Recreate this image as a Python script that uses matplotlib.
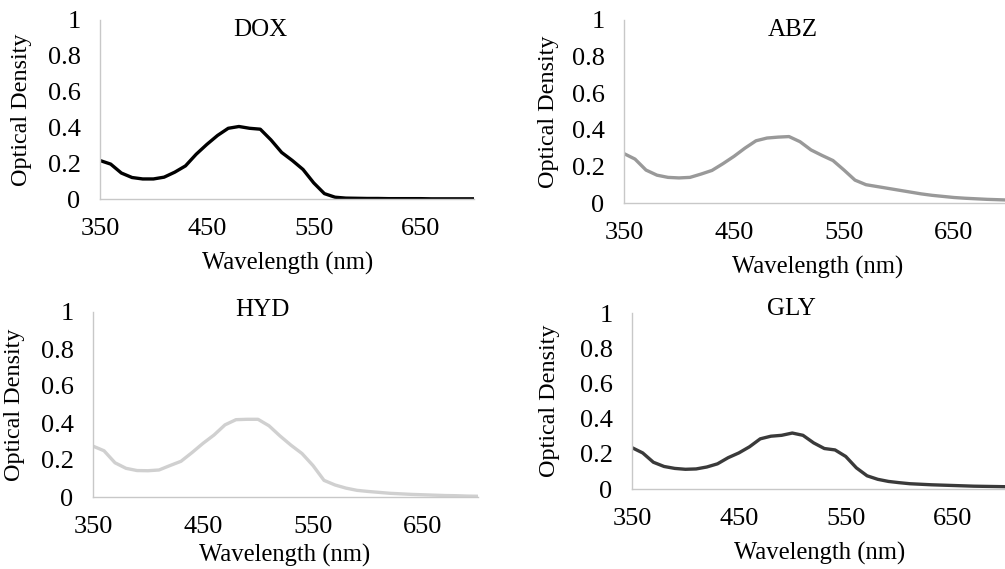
import matplotlib
matplotlib.use("Agg")
import matplotlib.pyplot as plt

plt.rcParams['font.family'] = ['Liberation Serif', 'DejaVu Serif']

wavelength = list(range(350, 701, 10))

dox = [0.215, 0.195, 0.145, 0.12, 0.112, 0.112, 0.122, 0.15, 0.185, 0.25,
       0.305, 0.355, 0.395, 0.405, 0.395, 0.39, 0.33, 0.26, 0.215, 0.165,
       0.09, 0.03, 0.01, 0.005, 0.004, 0.003, 0.003, 0.002, 0.002, 0.002,
       0.002, 0.001, 0.001, 0.001, 0.001, 0.001]
abz = [0.27, 0.24, 0.18, 0.152, 0.14, 0.137, 0.14, 0.158, 0.178, 0.215,
       0.255, 0.3, 0.34, 0.355, 0.36, 0.363, 0.335, 0.29, 0.26, 0.232,
       0.18, 0.125, 0.1, 0.09, 0.08, 0.07, 0.06, 0.05, 0.042, 0.036,
       0.03, 0.026, 0.023, 0.02, 0.018, 0.016]
hyd = [0.275, 0.25, 0.185, 0.155, 0.143, 0.142, 0.146, 0.17, 0.193, 0.24,
       0.29, 0.335, 0.39, 0.418, 0.42, 0.42, 0.385, 0.33, 0.28, 0.235,
       0.17, 0.09, 0.065, 0.048, 0.036, 0.03, 0.025, 0.02, 0.017, 0.014,
       0.012, 0.01, 0.008, 0.007, 0.005, 0.004]
gly = [0.235, 0.205, 0.152, 0.128, 0.117, 0.112, 0.114, 0.125, 0.143, 0.178,
       0.205, 0.24, 0.285, 0.3, 0.305, 0.318, 0.305, 0.262, 0.23, 0.222,
       0.185, 0.12, 0.075, 0.055, 0.043, 0.036, 0.03, 0.027, 0.024, 0.022,
       0.02, 0.018, 0.016, 0.015, 0.014, 0.013]

titles = ["DOX", "ABZ", "HYD", "GLY"]
series = [dox, abz, hyd, gly]
colors = ["#000000", "#999999", "#d0d0d0", "#3a3a3a"]
x_ticks = [350, 450, 550, 650]
y_ticks = [0, 0.2, 0.4, 0.6, 0.8, 1]
y_ticklabels = ["0", "0.2", "0.4", "0.6", "0.8", "1"]

W, H = 1005, 569
fig = plt.figure(figsize=(W / 100, H / 100), dpi=100)

# pixel layouts: left, right, top, bottom
boxes = [(100, 474, 20, 199), (624, 1009, 20, 203),
         (93, 478, 312, 497), (632, 1006, 313, 489)]
title_pos = [(260, 30), (793, 30), (262, 310), (791, 309)]
xlabel_pos = [(288, 263), (818, 267), (285, 555), (820, 553)]
ylabel_x = [22, 548, 15, 550]

for i in range(4):
    l, r, t, b = boxes[i]
    ax = fig.add_axes([l / W, 1 - b / H, (r - l) / W, (b - t) / H])
    ax.plot(wavelength, series[i], color=colors[i], lw=2.4,
            solid_joinstyle='round', solid_capstyle='round')
    ax.set_xlim(350, 700)
    ax.set_ylim(0, 1)
    ax.set_xticks(x_ticks)
    ax.set_yticks(y_ticks)
    ax.set_yticklabels(y_ticklabels)
    for s in ["top", "right"]:
        ax.spines[s].set_visible(False)
    for s in ["left", "bottom"]:
        ax.spines[s].set_color("#c8c8c8")
        ax.spines[s].set_linewidth(1.0)
    ax.tick_params(length=0, labelsize=19, colors="#000000")
    ax.tick_params(axis='x', pad=14)
    ax.tick_params(axis='y', pad=14)
    ax.patch.set_alpha(0)
    fig.text(title_pos[i][0] / W, 1 - title_pos[i][1] / H, titles[i],
             ha='center', va='center', fontsize=18)
    fig.text(xlabel_pos[i][0] / W, 1 - xlabel_pos[i][1] / H, "Wavelength (nm)",
             ha='center', va='center', fontsize=17.7)
    fig.text(ylabel_x[i] / W, 1 - ((t + b) / 2) / H, "Optical Density",
             ha='center', va='center', rotation=90, fontsize=17.4)

fig.savefig("out.png", dpi=100)
